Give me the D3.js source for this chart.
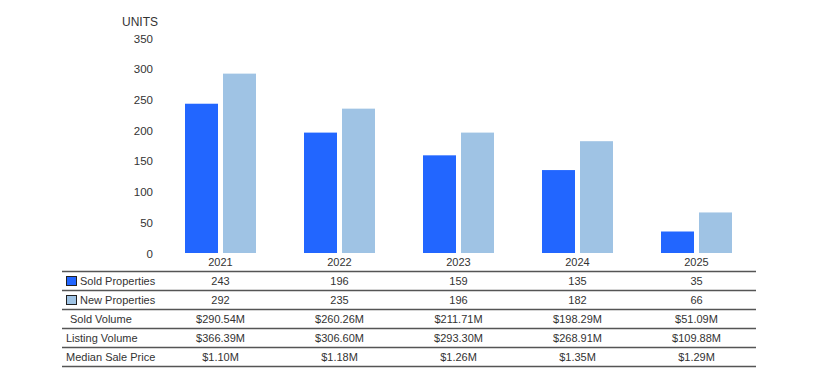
<!DOCTYPE html>
<html>
<head>
<meta charset="utf-8">
<script src="https://cdn.jsdelivr.net/npm/d3@7"></script>
<style>
  html, body { margin: 0; padding: 0; background: #fff; }
  svg { display: block; font-family: "Liberation Sans", Arial, sans-serif; }
</style>
</head>
<body>
<svg id="chart" width="814" height="382"></svg>
<script>
const years = ["2021", "2022", "2023", "2024", "2025"];
const seriesNames = ["Sold Properties", "New Properties"];
const soldProperties = [243, 196, 159, 135, 35];
const newProperties = [292, 235, 196, 182, 66];
const soldVolume = ["$290.54M", "$260.26M", "$211.71M", "$198.29M", "$51.09M"];
const listingVolume = ["$366.39M", "$306.60M", "$293.30M", "$268.91M", "$109.88M"];
const medianSalePrice = ["$1.10M", "$1.18M", "$1.26M", "$1.35M", "$1.29M"];
const yTicks = [0, 50, 100, 150, 200, 250, 300, 350];
const colors = ["#2266ff", "#9fc3e4"];

const svg = d3.select("#chart");
const x0 = d3.scaleBand().domain(years).range([161, 756]).paddingInner(0).paddingOuter(0);
const x1 = d3.scaleBand().domain(seriesNames).range([24, 95]).paddingInner(5 / 38).paddingOuter(0);
const y = d3.scaleLinear().domain([0, 350]).range([253, 38]);

// Y axis
const yAxis = d3.axisLeft(y).tickValues(yTicks).tickSize(0).tickPadding(0);
const gy = svg.append("g").attr("transform", "translate(153,0)").call(yAxis);
gy.select(".domain").remove();
gy.selectAll("text").attr("fill", "#333").style("font-size", "11.5px")
  .style("font-family", '"Liberation Sans", Arial, sans-serif').attr("dy", "0.35em");

svg.append("text").attr("x", 158).attr("y", 22).attr("dy", "0.35em")
  .attr("text-anchor", "end").attr("fill", "#333").style("font-size", "12px").text("UNITS");

// Bars
const data = years.map((yr, i) => ({ year: yr, values: [soldProperties[i], newProperties[i]] }));
const groups = svg.append("g").selectAll("g").data(data).join("g")
  .attr("transform", d => `translate(${x0(d.year)},0)`);
groups.selectAll("rect").data(d => d.values.map((v, j) => ({ name: seriesNames[j], v, j })))
  .join("rect")
  .attr("x", d => x1(d.name))
  .attr("width", x1.bandwidth())
  .attr("y", d => y(d.v))
  .attr("height", d => y(0) - y(d.v))
  .attr("fill", d => colors[d.j]);

// Year labels
svg.append("g").selectAll("text").data(years).join("text")
  .attr("x", d => x0(d) + x0.bandwidth() / 2)
  .attr("y", 262).attr("dy", "0.35em").attr("text-anchor", "middle")
  .attr("fill", "#333").style("font-size", "11px").text(d => d);

// Table
const rows = [
  { label: "Sold Properties", vals: soldProperties, swatch: colors[0], lx: 80 },
  { label: "New Properties", vals: newProperties, swatch: colors[1], lx: 80 },
  { label: "Sold Volume", vals: soldVolume, lx: 70 },
  { label: "Listing Volume", vals: listingVolume, lx: 66 },
  { label: "Median Sale Price", vals: medianSalePrice, lx: 66 }
];
const tableTop = 271.5, rowH = 19, tableLeft = 62, tableRight = 756;
for (let k = 0; k <= rows.length; k++) {
  svg.append("line").attr("x1", tableLeft).attr("x2", tableRight)
    .attr("y1", tableTop + k * rowH).attr("y2", tableTop + k * rowH)
    .attr("stroke", "#555").attr("stroke-width", 1.5);
}
rows.forEach((r, k) => {
  const cy = tableTop + k * rowH + rowH / 2;
  if (r.swatch) {
    svg.append("rect").attr("x", 66.5).attr("y", cy - 4.5).attr("width", 10).attr("height", 9)
      .attr("fill", r.swatch).attr("stroke", "#222").attr("stroke-width", 1);
  }
  svg.append("text").attr("x", r.lx).attr("y", cy).attr("dy", "0.35em")
    .attr("fill", "#333").style("font-size", "11px").text(r.label);
  svg.append("g").selectAll("text").data(r.vals).join("text")
    .attr("x", (d, i) => x0(years[i]) + x0.bandwidth() / 2)
    .attr("y", cy).attr("dy", "0.35em").attr("text-anchor", "middle")
    .attr("fill", "#333").style("font-size", "11px").text(d => d);
});
</script>
</body>
</html>
